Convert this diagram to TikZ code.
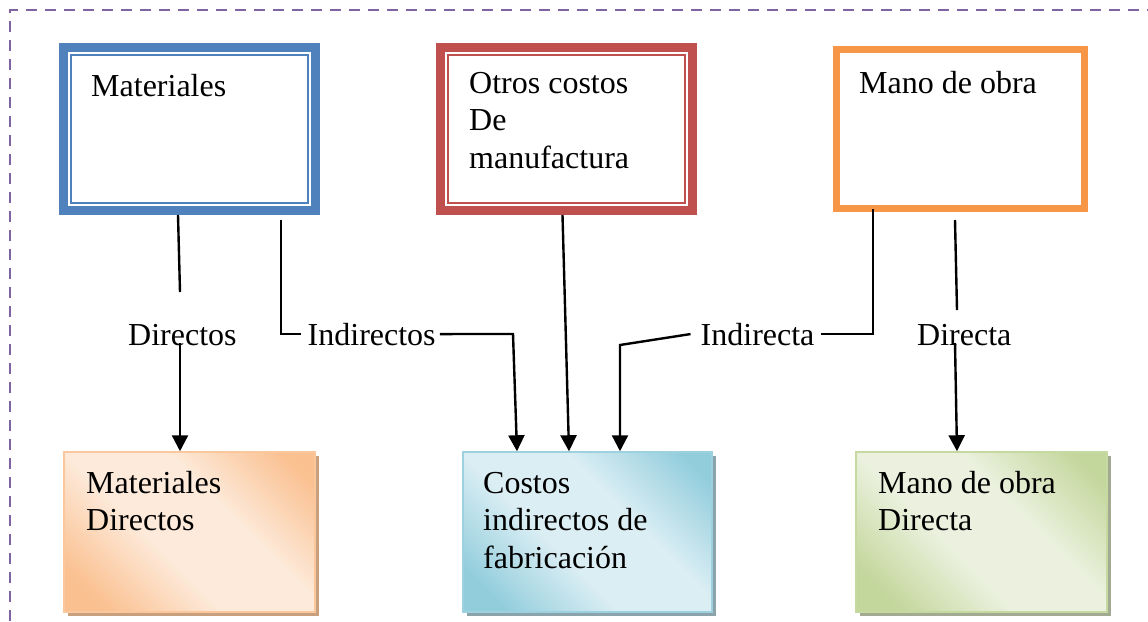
\documentclass[tikz,border=0pt]{standalone}
\usepackage{fontspec}
\setmainfont{Liberation Serif}
\usetikzlibrary{arrows.meta,shadows}
\definecolor{pur}{HTML}{8064A2}
\definecolor{blu}{HTML}{4F81BD}
\definecolor{rd}{HTML}{C0504D}
\definecolor{orgc}{HTML}{F79646}
\definecolor{ordk}{HTML}{FAC090}
\definecolor{orlt}{HTML}{FDEADA}
\definecolor{orbd}{HTML}{FBC89E}
\definecolor{orsd}{HTML}{C8A07E}
\definecolor{bldk}{HTML}{92CDDC}
\definecolor{bllt}{HTML}{DBEEF4}
\definecolor{blbd}{HTML}{9DD1DF}
\definecolor{blsd}{HTML}{8BA3AA}
\definecolor{grdk}{HTML}{C3D69B}
\definecolor{grlt}{HTML}{EBF1DE}
\definecolor{grbd}{HTML}{C6D9A0}
\definecolor{grsd}{HTML}{A3AA92}
\pgfdeclarehorizontalshading{orsh}{100bp}{color(0bp)=(ordk); color(22bp)=(ordk); color(42bp)=(orlt); color(60bp)=(orlt); color(80bp)=(ordk); color(100bp)=(ordk)}
\pgfdeclarehorizontalshading{blsh}{100bp}{color(0bp)=(bldk); color(22bp)=(bldk); color(42bp)=(bllt); color(60bp)=(bllt); color(80bp)=(bldk); color(100bp)=(bldk)}
\pgfdeclarehorizontalshading{grsh}{100bp}{color(0bp)=(grdk); color(22bp)=(grdk); color(42bp)=(grlt); color(60bp)=(grlt); color(80bp)=(grdk); color(100bp)=(grdk)}
\newcommand{\mylines}[1]{\begin{tabular}[t]{@{}l@{}}#1\end{tabular}}
\begin{document}
\begin{tikzpicture}[x=1pt,y=-1pt,
  txt/.style={inner sep=0pt, anchor=base west, font=\fontsize{32}{37.5}\selectfont},
  topbox/.style={rectangle, inner sep=0pt, minimum width=252pt, minimum height=163pt, line width=9pt, fill=white},
  inner/.style={line width=2.3pt},
  botbox/.style={rectangle, inner sep=0pt, minimum width=251pt, minimum height=160pt, line width=1.5pt, shade, shading angle=45},
  ln/.style={line width=2.4pt},
  arr/.style={line width=2.4pt, -{Triangle[length=16pt,width=16pt]}},
]
\useasboundingbox (0,0) rectangle (1148,621);
\fill[white] (0,0) rectangle (1148,621);
% dashed frame
\draw[pur, line width=2.4pt, dash pattern=on 11pt off 8pt] (10,621) -- (10,10) -- (1148,10);

% top boxes
\node[topbox, draw=blu] (mat) at (189.5,129) {};
\draw[inner, blu] ([shift={(12,12)}]mat.north west) rectangle ([shift={(-12,-12)}]mat.south east);
\node[txt] (matT) at (91,96) {Materiales};

\node[topbox, draw=rd] (otr) at (566.5,129) {};
\draw[inner, rd] ([shift={(12,12)}]otr.north west) rectangle ([shift={(-12,-12)}]otr.south east);
\node[txt] (otrT) at (469,93) {\mylines{Otros costos\\De\\manufactura}};

\node[topbox, draw=orgc, line width=7pt, minimum width=248pt, minimum height=159pt] (mob) at (960.5,129) {};
\node[txt] (mobT) at (859,93) {Mano de obra};

% bottom boxes
\node[botbox, shading=orsh, draw=orbd, drop shadow={shadow xshift=4pt, shadow yshift=-4pt, fill=orsd, opacity=1, draw=none}] (lmd) at (189.5,532) {};
\node[txt] (lmdT) at (86,493) {\mylines{Materiales\\Directos}};

\node[botbox, shading=blsh, draw=blbd, minimum width=249pt, drop shadow={shadow xshift=4pt, shadow yshift=-4pt, fill=blsd, opacity=1, draw=none}] (cif) at (587.5,532) {};
\node[txt] (cifT) at (483,493) {\mylines{Costos\\indirectos de\\fabricación}};

\node[botbox, shading=grsh, draw=grbd, drop shadow={shadow xshift=4pt, shadow yshift=-4pt, fill=grsd, opacity=1, draw=none}] (mod) at (981.5,532) {};
\node[txt] (modT) at (878,493) {\mylines{Mano de obra\\Directa}};

% labels
\node[txt] (dirL) at (128,345) {Directos};
\node[txt] (indL) at (307.5,345) {Indirectos};
\node[txt] (inaL) at (700.5,345) {Indirecta};
\node[txt] (draL) at (917,345) {Directa};

% connectors
\coordinate (p1) at (180,292);
\coordinate (p1s) at (180,343);
\draw[ln] ([xshift=-11.5pt]mat.south) -- (p1);
\draw[arr] (p1s) -- (p1s |- lmd.north);

\coordinate (p2) at (513,334);
\draw[ln] ([xshift=91.5pt,yshift=-5pt]mat.south) |- ([xshift=-7pt]indL.west);
\draw[arr] ([xshift=4pt]indL.east) -- (p2) -- ([xshift=-70.5pt]cif.north);

\draw[arr] ([xshift=-4pt]otr.south) -- ([xshift=-18.5pt]cif.north);

\coordinate (p4) at (620,345);
\draw[ln] ([xshift=-87.5pt,yshift=3pt]mob.south) |- ([xshift=6pt]inaL.east);
\draw[arr] ([xshift=-10pt]inaL.west) -- (p4) -- (p4 |- cif.north);

\coordinate (p5) at (957,310);
\coordinate (p5s) at (955,343);
\draw[ln] ([xshift=-5.5pt,yshift=-8pt]mob.south) -- (p5);
\draw[arr] (p5s) -- ([xshift=-24.5pt]mod.north);
\end{tikzpicture}
\end{document}
